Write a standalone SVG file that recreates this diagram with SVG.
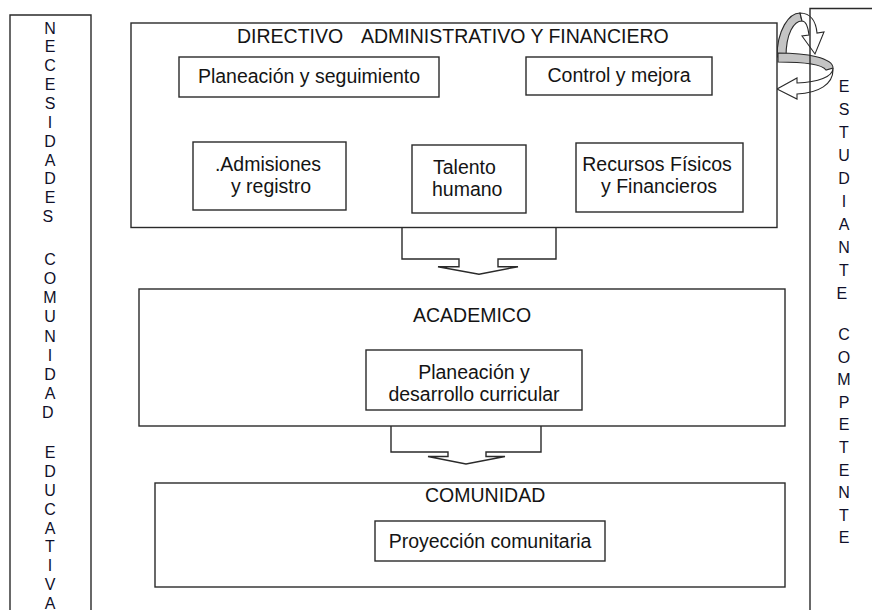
<svg xmlns="http://www.w3.org/2000/svg" width="872" height="610" viewBox="0 0 872 610">
<style>
.box{fill:#fff;stroke:#2a2a2a;stroke-width:1.4}
.frame{fill:none;stroke:#2a2a2a;stroke-width:1.4}
.t{font-family:"Liberation Sans",Arial,sans-serif;font-size:19.5px;fill:#141414}
.c{text-anchor:middle}
.v{font-family:"Liberation Sans",Arial,sans-serif;font-size:16px;fill:#10102a;text-anchor:middle}
.arr{fill:none;stroke:#2a2a2a;stroke-width:1.4;stroke-linejoin:miter}
</style>
<rect width="872" height="610" fill="#fff"/>

<g id="necesidades">
<path class="frame" d="M10,620 V15 H91 V620"/>
<text class="v">
<tspan x="50" y="33.5">N</tspan><tspan x="50" y="52.4">E</tspan><tspan x="50" y="71.2">C</tspan><tspan x="50" y="90.1">E</tspan><tspan x="50" y="108.9">S</tspan><tspan x="50" y="127.8">I</tspan><tspan x="50" y="146.6">D</tspan><tspan x="50" y="165.5">A</tspan><tspan x="50" y="184.3">D</tspan><tspan x="50" y="203.2">E</tspan><tspan x="50" y="222">S</tspan>
<tspan x="50" y="265">C</tspan><tspan x="50" y="284.1">O</tspan><tspan x="50" y="303.2">M</tspan><tspan x="50" y="322.3">U</tspan><tspan x="50" y="341.5">N</tspan><tspan x="50" y="360.6">I</tspan><tspan x="50" y="379.7">D</tspan><tspan x="50" y="398.8">A</tspan><tspan x="50" y="418">D</tspan>
<tspan x="50" y="458">E</tspan><tspan x="50" y="476.9">D</tspan><tspan x="50" y="495.8">U</tspan><tspan x="50" y="514.6">C</tspan><tspan x="50" y="533.5">A</tspan><tspan x="50" y="552.4">T</tspan><tspan x="50" y="571.3">I</tspan><tspan x="50" y="590.1">V</tspan><tspan x="50" y="608.5">A</tspan>
</text>
</g>

<g id="cycle-arrow">
<path d="M777,57 C777,30 789,13 800,13 L802,21 C794,21 786,33 786,57 Z" fill="#c4c4c4" stroke="#2a2a2a" stroke-width="1.1"/>
<path d="M800,13 C811,13 816,22 817,33 L824,32 L815,54 L802,36 L809,35 C808,27 806,21 802,21 Z" fill="#fff" stroke="#2a2a2a" stroke-width="1.1"/>
<path d="M778,53 C807,53 833,58 833,68 L826,70 C822,64 800,62 778,62 Z" fill="#c4c4c4" stroke="#2a2a2a" stroke-width="1.1"/>
<path d="M833,68 C833,77 818,82 797,83 L797,78 L777,89 L797,99 L797,94 C819,93 833,84 833,70 Z" fill="#fff" stroke="#2a2a2a" stroke-width="1.1"/>
</g>

<g id="estudiante">
<path class="frame" d="M810,620 V8.5 H880"/>
<text class="v">
<tspan x="844" y="92">E</tspan><tspan x="844" y="115">S</tspan><tspan x="844" y="138">T</tspan><tspan x="844" y="161">U</tspan><tspan x="844" y="184">D</tspan><tspan x="844" y="207">I</tspan><tspan x="844" y="230">A</tspan><tspan x="844" y="253">N</tspan><tspan x="844" y="276">T</tspan><tspan x="844" y="299">E</tspan>
<tspan x="844" y="340">C</tspan><tspan x="844" y="362.6">O</tspan><tspan x="844" y="385.2">M</tspan><tspan x="844" y="407.8">P</tspan><tspan x="844" y="430.4">E</tspan><tspan x="844" y="453">T</tspan><tspan x="844" y="475.6">E</tspan><tspan x="844" y="498.2">N</tspan><tspan x="844" y="520.8">T</tspan><tspan x="844" y="543.4">E</tspan>
</text>
</g>

<g id="connectors">
<path class="arr" d="M402,226 V259 H459 V266.7 H438 L479,274.3 L518,266.7 H498 V259 H556 V226"/>
<path class="arr" d="M391,425 V452 H448 V456.5 H428 L466,464 L505,456.5 H486 V452 H541 V425"/>
</g>

<g id="directivo">
<rect class="box" x="131" y="23" width="646" height="204.5"/>
<text class="t" x="237" y="43">DIRECTIVO<tspan x="361">ADMINISTRATIVO Y FINANCIERO</tspan></text>
</g>
<g id="planeacion-seguimiento">
<rect class="box" x="179" y="57" width="260" height="40"/>
<text class="t c" x="309" y="83">Planeación y seguimiento</text>
</g>
<g id="control-mejora">
<rect class="box" x="526" y="57" width="186" height="38"/>
<text class="t c" x="619" y="82">Control y mejora</text>
</g>
<g id="admisiones">
<rect class="box" x="193" y="142" width="153" height="68"/>
<text class="t c" x="268" y="171">.Admisiones</text>
<text class="t c" x="271" y="193">y registro</text>
</g>
<g id="talento">
<rect class="box" x="412" y="145" width="114" height="68"/>
<text class="t" x="433" y="174">Talento</text>
<text class="t" x="432" y="196">humano</text>
</g>
<g id="recursos">
<rect class="box" x="576" y="143" width="167" height="69"/>
<text class="t c" x="657" y="171">Recursos Físicos</text>
<text class="t c" x="659" y="193">y Financieros</text>
</g>

<g id="academico">
<rect class="box" x="139" y="289" width="646" height="137"/>
<text class="t" x="413" y="322">ACADEMICO</text>
</g>
<g id="planeacion-desarrollo">
<rect class="box" x="366" y="350" width="216" height="60"/>
<text class="t c" x="474" y="379">Planeación y</text>
<text class="t c" x="474" y="401">desarrollo curricular</text>
</g>

<g id="comunidad">
<rect class="box" x="155" y="483" width="630" height="104"/>
<text class="t" x="425" y="502">COMUNIDAD</text>
</g>
<g id="proyeccion">
<rect class="box" x="375" y="521" width="230" height="40"/>
<text class="t c" x="490" y="548">Proyección comunitaria</text>
</g>
</svg>
